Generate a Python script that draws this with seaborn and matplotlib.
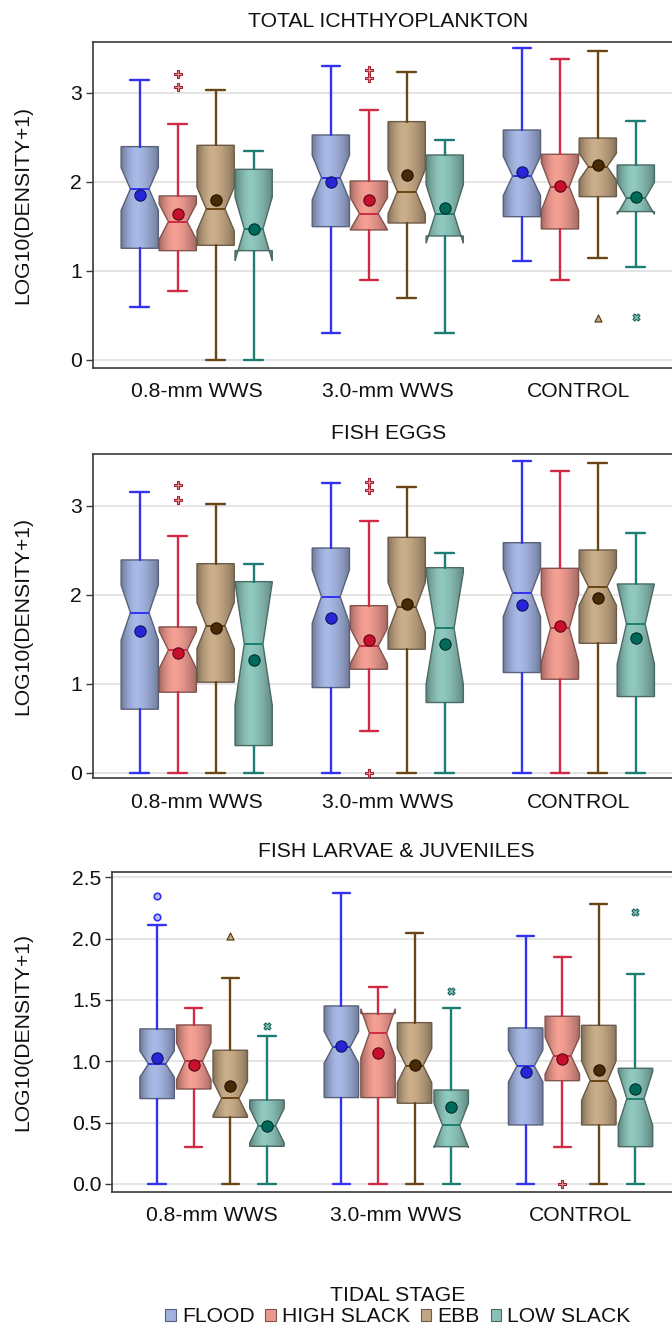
import numpy as np
import pandas as pd
import matplotlib
matplotlib.use("Agg")
import matplotlib.pyplot as plt
import seaborn as sns
from matplotlib.patches import Patch
from matplotlib.colors import to_rgb

GROUPS = ["0.8-mm WWS", "3.0-mm WWS", "CONTROL"]
STAGES = ["FLOOD", "HIGH SLACK", "EBB", "LOW SLACK"]

# Summary statistics, one row per sieve group, one column per tidal stage
# --- Total ichthyoplankton
TOTAL_LOW = [[0.60, 0.78, 0.00, 0.00], [0.30, 0.90, 0.70, 0.30], [1.11, 0.90, 1.14, 1.04]]
TOTAL_Q1 = [[1.255, 1.228, 1.288, 1.228], [1.498, 1.461, 1.539, 1.393], [1.610, 1.472, 1.835, 1.667]]
TOTAL_MED = [[1.921, 1.554, 1.697, 1.472], [2.049, 1.644, 1.891, 1.640], [2.067, 1.948, 2.172, 1.816]]
TOTAL_Q3 = [[2.397, 1.843, 2.412, 2.142], [2.528, 2.011, 2.678, 2.303], [2.584, 2.311, 2.494, 2.191]]
TOTAL_HIGH = [[3.146, 2.648, 3.030, 2.348], [3.307, 2.813, 3.232, 2.472], [3.502, 3.382, 3.476, 2.685]]
TOTAL_MEAN = [[1.854, 1.640, 1.794, 1.472], [2.004, 1.794, 2.075, 1.704], [2.109, 1.959, 2.191, 1.831]]
TOTAL_NOTCH = [[0.24, 0.20, 0.245, 0.36], [0.25, 0.18, 0.25, 0.33], [0.22, 0.27, 0.15, 0.18]]
TOTAL_OUT = [[[], [3.217, 3.067], [], []], [[], [3.258, 3.172], [], []], [[], [], [0.476], [0.483]]]

# --- Fish eggs
EGGS_LOW = [[0.0, 0.0, 0.0, 0.0], [0.0, 0.472, 0.0, 0.0], [0.0, 0.0, 0.0, 0.0]]
EGGS_Q1 = [[0.712, 0.903, 1.015, 0.303], [0.955, 1.161, 1.386, 0.787], [1.124, 1.049, 1.453, 0.854]]
EGGS_MED = [[1.798, 1.378, 1.652, 1.446], [1.978, 1.423, 1.858, 1.622], [2.022, 1.622, 2.090, 1.670]]
EGGS_Q3 = [[2.390, 1.637, 2.348, 2.146], [2.524, 1.876, 2.644, 2.303], [2.584, 2.296, 2.502, 2.120]]
EGGS_HIGH = [[3.150, 2.655, 3.022, 2.345], [3.258, 2.824, 3.213, 2.464], [3.506, 3.390, 3.483, 2.689]]
EGGS_MEAN = [[1.592, 1.341, 1.622, 1.270], [1.734, 1.491, 1.899, 1.442], [1.880, 1.652, 1.966, 1.517]]
EGGS_NOTCH = [[0.31, 0.21, 0.26, 0.69], [0.30, 0.20, 0.28, 0.63], [0.27, 0.38, 0.21, 0.45]]
EGGS_OUT = [[[], [3.228, 3.067], [], []], [[], [3.262, 3.176, 0.0], [], []], [[], [], [], []]]

# --- Fish larvae & juveniles
LARV_LOW = [[0.0, 0.304, 0.0, 0.0], [0.0, 0.0, 0.0, 0.0], [0.0, 0.299, 0.0, 0.0]]
LARV_Q1 = [[0.696, 0.774, 0.543, 0.307], [0.704, 0.704, 0.658, 0.304], [0.481, 0.842, 0.481, 0.304]]
LARV_MED = [[0.978, 1.000, 0.698, 0.476], [1.114, 1.228, 0.965, 0.478], [0.962, 1.046, 0.842, 0.696]]
LARV_Q3 = [[1.264, 1.296, 1.090, 0.685], [1.451, 1.389, 1.315, 0.766], [1.272, 1.367, 1.293, 0.943]]
LARV_HIGH = [[2.111, 1.432, 1.677, 1.204], [2.370, 1.603, 2.046, 1.432], [2.024, 1.848, 2.283, 1.712]]
LARV_MEAN = [[1.027, 0.973, 0.802, 0.476], [1.125, 1.065, 0.970, 0.630], [0.913, 1.019, 0.929, 0.777]]
LARV_NOTCH = [[0.107, 0.15, 0.14, 0.14], [0.13, 0.20, 0.14, 0.18], [0.13, 0.15, 0.16, 0.22]]
LARV_OUT = [[[2.345, 2.177], [], [2.022], [1.291]], [[], [], [], [1.571]], [[], [0.0], [], [2.220]]]

# Styling per tidal stage
FILL = {"FLOOD": "#a0b1dd", "HIGH SLACK": "#ea988d", "EBB": "#c2a683", "LOW SLACK": "#89c0b6"}
LINE = {"FLOOD": "#3232f0", "HIGH SLACK": "#d02a45", "EBB": "#6a4515", "LOW SLACK": "#1e7d72"}
MEAN = {"FLOOD": "#2626d8", "HIGH SLACK": "#c8102e", "EBB": "#4a2a05", "LOW SLACK": "#006a5a"}
OUT_MARK = {"FLOOD": "o", "HIGH SLACK": "P", "EBB": "^", "LOW SLACK": "X"}
OFFSETS = [-0.298, -0.099, 0.099, 0.298]

FS = 15.2

sns.set_theme(style="whitegrid")
plt.rcParams["font.family"] = ["Liberation Sans", "DejaVu Sans"]
plt.rcParams["axes.edgecolor"] = "#3a3a3a"
plt.rcParams["text.color"] = "#111111"
plt.rcParams["xtick.color"] = "#111111"
plt.rcParams["ytick.color"] = "#111111"
plt.rcParams["axes.labelcolor"] = "#111111"


def darker(c, f):
    return tuple(np.clip(np.array(to_rgb(c)) * f, 0, 1))


def gradient(c, n=80):
    t = np.linspace(0, 1, n)
    u = np.where(t < 0.4, (0.4 - t) / 0.4, (t - 0.4) / 0.6)
    f = 1.05 - 0.36 * u ** 1.6
    rgb = np.clip(np.array(to_rgb(c))[None, :] * f[:, None], 0, 1)
    return rgb[None, :, :]


def long_table(values):
    rows = []
    for g, grp in enumerate(GROUPS):
        for s, stage in enumerate(STAGES):
            vals = values[g][s]
            vals = vals if isinstance(vals, list) else [vals]
            for v in vals:
                rows.append({"group": grp, "stage": stage, "pos": g + OFFSETS[s], "value": v})
    return pd.DataFrame(rows)


def draw_panel(ax, title, low, q1, med, q3, high, mean, notch, outs, width, yticks, ylim, ytick_fmt):
    for g in range(len(GROUPS)):
        for s, stage in enumerate(STAGES):
            pos = g + OFFSETS[s]
            cilo = med[g][s] - notch[g][s]
            cihi = med[g][s] + notch[g][s]
            stats = dict(whislo=low[g][s], q1=q1[g][s], med=med[g][s], q3=q3[g][s],
                         whishi=high[g][s], cilo=cilo, cihi=cihi, fliers=[])
            art = ax.bxp([stats], positions=[pos], widths=width, shownotches=True,
                         patch_artist=True, showfliers=False, showmeans=False,
                         manage_ticks=False, zorder=3,
                         boxprops=dict(facecolor="none", edgecolor=darker(FILL[stage], 0.55), linewidth=1.0),
                         whiskerprops=dict(color=LINE[stage], linewidth=1.7),
                         capprops=dict(color=LINE[stage], linewidth=1.7),
                         medianprops=dict(color=LINE[stage], linewidth=1.4))
            box = art["boxes"][0]
            ymin = min(q1[g][s], cilo)
            ymax = max(q3[g][s], cihi)
            im = ax.imshow(gradient(FILL[stage]), extent=[pos - width / 2, pos + width / 2, ymin, ymax],
                           aspect="auto", interpolation="bilinear", zorder=2.9)
            im.set_clip_path(box)

    means = long_table(mean)
    outliers = long_table(outs)
    for stage in STAGES:
        sub = means[means["stage"] == stage]
        sns.scatterplot(data=sub, x="pos", y="value", color=MEAN[stage], s=66,
                        edgecolor=darker(MEAN[stage], 0.45), linewidth=0.8,
                        legend=False, ax=ax, zorder=6)
        sub = outliers[outliers["stage"] == stage]
        if len(sub):
            if stage == "FLOOD":
                sns.scatterplot(data=sub, x="pos", y="value", marker="o", s=22,
                                facecolor="#b8c0f0", edgecolor=LINE[stage], linewidth=1.2,
                                legend=False, ax=ax, zorder=6)
            else:
                sns.scatterplot(data=sub, x="pos", y="value", marker=OUT_MARK[stage], s=26,
                                color=FILL[stage], edgecolor=darker(LINE[stage], 0.8), linewidth=0.8,
                                legend=False, ax=ax, zorder=6)

    ax.set_xlim(-0.541, 2.545)
    ax.set_ylim(*ylim)
    ax.set_xticks(range(len(GROUPS)))
    ax.set_xticklabels(GROUPS, fontsize=FS)
    ax.set_yticks(yticks)
    ax.set_yticklabels([ytick_fmt.format(v) for v in yticks], fontsize=FS)
    ax.set_xlabel("")
    ax.set_ylabel("LOG10(DENSITY+1)", fontsize=FS)
    ax.set_title(title, fontsize=FS, pad=10.5)
    ax.xaxis.grid(False)
    ax.yaxis.grid(True, color="#e4e4e4", linewidth=1.4)
    ax.set_axisbelow(True)
    ax.tick_params(axis="x", length=0, pad=10.5)
    ax.tick_params(axis="y", length=5, width=1.0, color="#3a3a3a", pad=3, left=True, direction="out")
    for sp in ax.spines.values():
        sp.set_color("#3a3a3a")
        sp.set_linewidth(1.2)


fig = plt.figure(figsize=(6.72, 13.31), dpi=100)
W, H = 672.0, 1331.0


def add_axes(left, right, top, bottom):
    return fig.add_axes([left / W, 1 - bottom / H, (right - left) / W, (bottom - top) / H])


ax1 = add_axes(93.3, 683.0, 41.7, 367.7)
ax2 = add_axes(93.3, 683.0, 454.0, 778.3)
ax3 = add_axes(112.3, 681.0, 871.7, 1191.7)

draw_panel(ax1, "TOTAL ICHTHYOPLANKTON", TOTAL_LOW, TOTAL_Q1, TOTAL_MED, TOTAL_Q3, TOTAL_HIGH,
           TOTAL_MEAN, TOTAL_NOTCH, TOTAL_OUT, 0.195, [0, 1, 2, 3], (-0.087, 3.576), "{:.0f}")
draw_panel(ax2, "FISH EGGS", EGGS_LOW, EGGS_Q1, EGGS_MED, EGGS_Q3, EGGS_HIGH,
           EGGS_MEAN, EGGS_NOTCH, EGGS_OUT, 0.195, [0, 1, 2, 3], (-0.065, 3.581), "{:.0f}")
draw_panel(ax3, "FISH LARVAE & JUVENILES", LARV_LOW, LARV_Q1, LARV_MED, LARV_Q3, LARV_HIGH,
           LARV_MEAN, LARV_NOTCH, LARV_OUT, 0.187, [0, 0.5, 1.0, 1.5, 2.0, 2.5], (-0.063, 2.545), "{:.1f}")

ax1.yaxis.set_label_coords((32 - 93.3) / (683.0 - 93.3), 0.5)
ax2.yaxis.set_label_coords((32 - 93.3) / (683.0 - 93.3), 0.5)
ax3.yaxis.set_label_coords((32 - 112.3) / (681.0 - 112.3), 0.5)

handles = [Patch(facecolor=FILL[s], edgecolor=darker(FILL[s], 0.55), linewidth=0.8) for s in STAGES]
fig.legend(handles, STAGES, title="TIDAL STAGE", loc="center", bbox_to_anchor=(398 / W, 1 - 1306 / H),
           ncol=4, frameon=False, fontsize=FS, title_fontsize=FS, handlelength=0.5, handleheight=0.5,
           handletextpad=0.3, columnspacing=0.5, borderpad=0, labelspacing=0.1)

fig.savefig("out.png", dpi=100)
